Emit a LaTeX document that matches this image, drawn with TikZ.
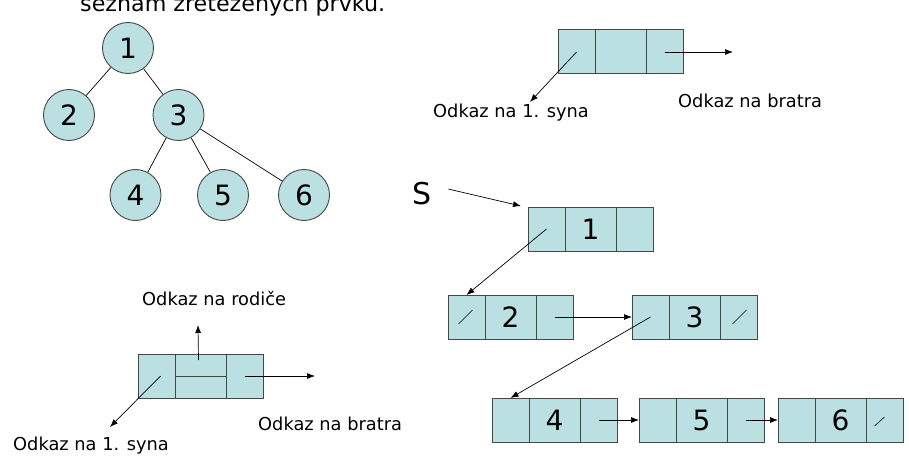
\documentclass[tikz,border=0pt]{standalone}
\usepackage{fontspec}
\setmainfont{DejaVu Sans}
\usetikzlibrary{arrows.meta,calc}
\definecolor{cellfill}{RGB}{186,224,226}
\definecolor{edgegrey}{RGB}{70,70,70}
\newcommand\mkrec[4]{%
  \node[cell, minimum width=37pt, anchor=north west] (#1-a) at (#2,#3) {};
  \node[cell, minimum width=51pt, anchor=north west] (#1-b) at (#1-a.north east) {#4};
  \node[cell, minimum width=37pt, anchor=north west] (#1-c) at (#1-b.north east) {};
}
\begin{document}
\begin{tikzpicture}[x=1pt,y=-1pt,
  cell/.style={draw=edgegrey, line width=1pt, fill=cellfill, minimum height=44pt,
    inner sep=0pt, outer sep=0pt, font=\fontsize{28}{28}\selectfont},
  tnode/.style={circle, draw=edgegrey, line width=0.9pt, fill=cellfill, minimum size=51pt,
    inner sep=0pt, font=\fontsize{28}{28}\selectfont},
  lab/.style={anchor=base west, inner sep=0pt, font=\fontsize{17.8}{21}\selectfont},
  arr/.style={line width=0.7pt, -{Latex[length=8pt,width=6pt]}},
  edge/.style={line width=0.7pt},
  slash/.style={line width=0.6pt}]
\useasboundingbox (0,0) rectangle (909,465);
\clip (0,0) rectangle (909,465);

% clipped title
\node[lab, font=\fontsize{22.2}{26}\selectfont] (title) at (80,12) {seznam zřetězených prvků.};

% tree
\node[tnode] (n1) at (128,48) {1};
\node[tnode] (n2) at (69,115) {2};
\node[tnode] (n3) at (178.5,115) {3};
\node[tnode] (n4) at (135.5,195) {4};
\node[tnode] (n5) at (223,195) {5};
\node[tnode] (n6) at (304,195) {6};
\draw[edge] (n1) -- (n2);
\draw[edge] (n1) -- (n3);
\draw[edge] (n3) -- (n4);
\draw[edge] (n3) -- (n5);
\draw[edge] (n3) -- (n6);

% top-right legend record
\mkrec{T}{558}{30}{}
\coordinate (Tson) at (530,102);
\coordinate (Tbro) at (733,52);
\draw[arr] (T-a.center) -- (Tson);
\draw[arr] (T-c.center) -- (Tbro);
\node[lab] (Tl1) at (433,118) {Odkaz na 1. syna};
\node[lab] (Tl2) at (678,108) {Odkaz na bratra};

% list representation
\node[lab, font=\fontsize{30}{32}\selectfont] (S) at (412,204) {S};
\mkrec{R1}{528}{207}{1}
\mkrec{R2}{448}{295}{2}
\mkrec{R3}{632}{295}{3}
\mkrec{R4}{492}{398}{4}
\mkrec{R5}{639}{398}{5}
\mkrec{R6}{778}{398}{6}

\draw[arr] ($(S.east)+(17,-4)$) -- ($(R1-a.north west)+(-7,-1)$);
\draw[arr] (R1-a.center) -- (R2-a.north);
\draw[arr] (R2-c.center) -- (R3-a.west);
\draw[arr] (R3-a.center) -- (R4-a.north);
\draw[arr] (R4-c.center) -- (R5-a.west);
\draw[arr] (R5-c.center) -- (R6-a.west);

\draw[slash] ($(R2-a.center)+(-8,7)$) -- ($(R2-a.center)+(6,-7)$);
\draw[slash] ($(R3-c.center)+(-6,7)$) -- ($(R3-c.center)+(8,-7)$);
\draw[slash] ($(R6-c.center)+(-10,6)$) -- ($(R6-c.center)+(0,-3)$);

% bottom-left legend record
\mkrec{B}{138}{354}{}
\draw[line width=1pt, draw=edgegrey] (B-b.west) -- (B-b.east);
\coordinate (Bson) at (110,427);
\coordinate (Bpar) at (198,325);
\coordinate (Bbro) at (315,376);
\draw[arr] ($(B-a.center)+(4,0)$) -- (Bson);
\draw[arr] ($(B-b.center)+(-2,-16)$) -- (Bpar);
\draw[arr] (B-c.center) -- (Bbro);
\node[lab] (Bl1) at (142,305) {Odkaz na rodiče};
\node[lab] (Bl2) at (258,430) {Odkaz na bratra};
\node[lab] (Bl3) at (13,450) {Odkaz na 1. syna};
\end{tikzpicture}
\end{document}
